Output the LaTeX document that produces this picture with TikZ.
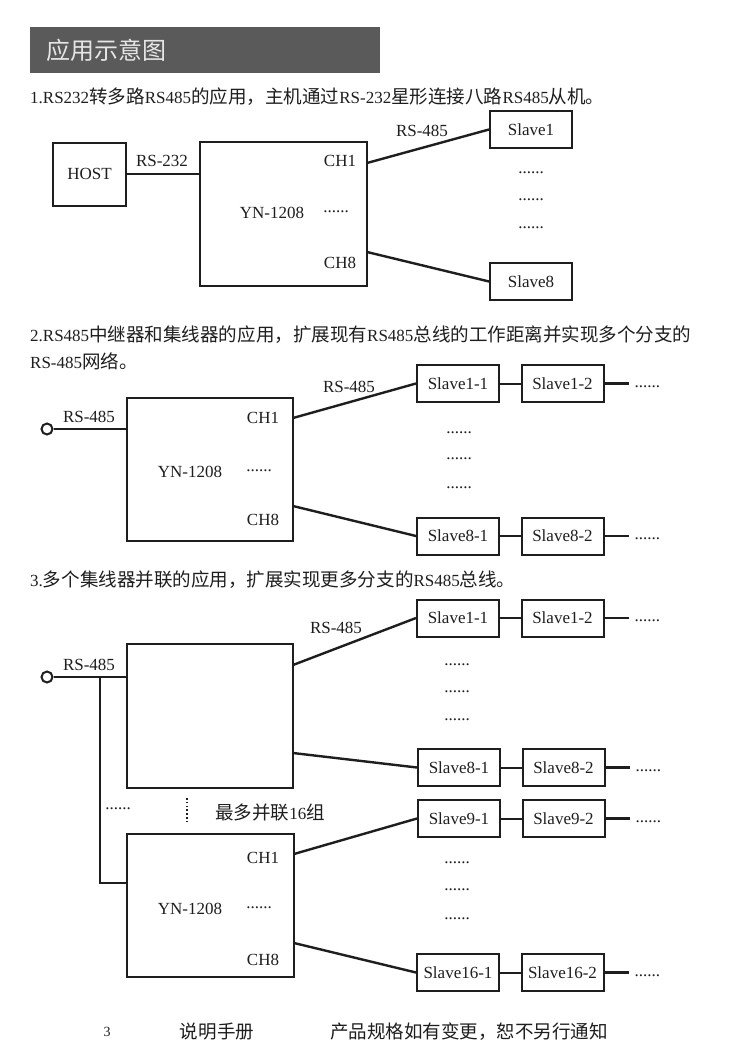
\documentclass[tikz,border=0pt]{standalone}
\usepackage{fontspec}
\setmainfont{Liberation Serif}
\newfontfamily\cjk{Noto Sans CJK SC}[Scale=1.09]
\newcommand\zh[1]{{\cjk #1}}
\definecolor{ink}{HTML}{1E1E1E}
\definecolor{bar}{HTML}{5A5A5A}
\definecolor{titleink}{HTML}{E6E6E6}
\begin{document}
\begin{tikzpicture}[x=1pt,y=-1pt,
  every node/.style={font=\fontsize{17}{20}\selectfont, text=ink, inner sep=0pt},
  slavebox/.style={draw=ink, line width=2pt, minimum width=82pt, minimum height=37pt, inner sep=0pt},
  hubbox/.style={draw=ink, line width=2pt, minimum width=166pt, minimum height=143pt, inner sep=0pt},
  wire/.style={draw=ink, line width=2.4pt},
  link/.style={draw=ink, line width=2pt},
  tail/.style={draw=ink, line width=2.8pt},
  ring/.style={circle, draw=ink, line width=2pt, minimum size=11pt, inner sep=0pt},
  line/.style={anchor=west, font=\fontsize{17}{20}\selectfont}
]
\useasboundingbox (0,0) rectangle (750,1062);
\fill[white] (0,0) rectangle (750,1062);

% title
\node[fill=bar, minimum width=350pt, minimum height=46pt, anchor=north west] (title) at (30,27) {};
\node[anchor=west, font=\fontsize{22}{24}\selectfont\cjk, text=titleink] (titletext) at (46,50) {应用示意图};

% ---------- section 1
\node[line] (t1) at (30,97) {1.RS232\zh{转多路}RS485\zh{的应用，主机通过}RS-232\zh{星形连接八路}RS485\zh{从机。}};
\node[draw=ink, line width=2pt, minimum width=73pt, minimum height=63pt] (host) at (89.5,174) {HOST};
\node[hubbox, minimum width=167pt, minimum height=144pt] (hub1) at (283.5,214) {};
\node (h1c1) at (340,161) {CH1};
\node (h1n) at (272,213) {YN-1208};
\node (h1d) at (336,212) {......};
\node (h1c8) at (340,263) {CH8};
\node (rs232) at (162,161) {RS-232};
\node[slavebox] (s1) at (531,129.5) {Slave1};
\node[slavebox] (s8) at (531,281.5) {Slave8};
\node (r1) at (422,131) {RS-485};
\node (d1a) at (531,173) {......};
\node (d1b) at (531,200) {......};
\node (d1c) at (531,228) {......};
\coordinate (h1o1) at (367,163);
\coordinate (h1o8) at (367,252);
\draw[wire] (host.east) -- (host.east -| hub1.west);
\draw[wire] (h1o1) -- (s1.west);
\draw[wire] (h1o8) -- (s8.west);

% ---------- section 2
\node[line] (t2a) at (30,335) {2.RS485\zh{中继器和集线器的应用，扩展现有}RS485\zh{总线的工作距离并实现多个分支的}};
\node[line] (t2b) at (30,361) {RS-485\zh{网络。}};
\node[ring] (ring2) at (47,429) {};
\node (r2in) at (89,417) {RS-485};
\node[hubbox] (hub2) at (210,469.5) {};
\node (h2c1) at (263,418) {CH1};
\node (h2n) at (190,472) {YN-1208};
\node (h2d) at (259,471) {......};
\node (h2c8) at (263,520) {CH8};
\draw[wire] (ring2.east) -- (ring2.east -| hub2.west);
\node[slavebox] (a11) at (458,383.5) {Slave1-1};
\node[slavebox] (a12) at (562.5,383.5) {Slave1-2};
\node[slavebox] (a81) at (458,536) {Slave8-1};
\node[slavebox] (a82) at (562.5,536) {Slave8-2};
\node (r2out) at (349,387) {RS-485};
\node (d2a) at (459,433) {......};
\node (d2b) at (459,459) {......};
\node (d2c) at (459,488) {......};
\coordinate (h2o1) at (293,418);
\coordinate (h2o8) at (293,506);
\draw[wire] (h2o1) -- (a11.west);
\draw[wire] (h2o8) -- (a81.west);
\draw[link] (a11) -- (a12);
\draw[link] (a81) -- (a82);
\draw[tail] (a12.east) -- ++(24,0) coordinate (a12e);
\draw[tail] (a82.east) -- ++(24,0) coordinate (a82e);
\node[anchor=west] (a12d) at ([xshift=6pt,yshift=-3pt]a12e) {......};
\node[anchor=west] (a82d) at ([xshift=6pt,yshift=-3pt]a82e) {......};

% ---------- section 3
\node[line] (t3) at (30,580) {3.\zh{多个集线器并联的应用，扩展实现更多分支的}RS485\zh{总线。}};
\node[ring] (ring3) at (47,677) {};
\node (r3in) at (89,665) {RS-485};
\node[hubbox, minimum height=144pt] (hub3a) at (210,716) {};
\node[hubbox, minimum width=167pt] (hub3b) at (210.5,905.5) {};
\node (h3c1) at (263,858) {CH1};
\node (h3n) at (190,909) {YN-1208};
\node (h3d) at (259,908) {......};
\node (h3c8) at (263,960) {CH8};
\draw[wire] (ring3.east) -- (ring3.east -| hub3a.west);
\coordinate (bus) at (100,677);
\coordinate (busj) at (127,883);
\draw[link] (bus) |- (busj);

\node[slavebox] (b11) at (458,618) {Slave1-1};
\node[slavebox] (b12) at (562.5,618) {Slave1-2};
\node[slavebox] (b81) at (459,767.5) {Slave8-1};
\node[slavebox] (b82) at (563.5,767.5) {Slave8-2};
\node[slavebox] (b91) at (459,818.5) {Slave9-1};
\node[slavebox] (b92) at (563.5,818.5) {Slave9-2};
\node[slavebox] (b161) at (458,972.5) {Slave16-1};
\node[slavebox] (b162) at (562.5,972.5) {Slave16-2};
\node (r3out) at (336,628) {RS-485};
\node (d3a) at (457,665) {......};
\node (d3b) at (457,692) {......};
\node (d3c) at (457,720) {......};
\node (d3d) at (457,863) {......};
\node (d3e) at (457,890) {......};
\node (d3f) at (457,919) {......};
\coordinate (h3o1) at (293,665);
\coordinate (h3o8) at (293,753);
\coordinate (h3o9) at (294,854);
\coordinate (h3o16) at (294,943);
\draw[wire] (h3o1) -- (b11.west);
\draw[wire] (h3o8) -- (b81.west);
\draw[wire] (h3o9) -- (b91.west);
\draw[wire] (h3o16) -- (b161.west);
\draw[link] (b11) -- (b12);
\draw[link] (b81) -- (b82);
\draw[link] (b91) -- (b92);
\draw[link] (b161) -- (b162);
\draw[tail] (b12.east) -- ++(24,0) coordinate (b12e);
\draw[tail] (b82.east) -- ++(24,0) coordinate (b82e);
\draw[tail] (b92.east) -- ++(24,0) coordinate (b92e);
\draw[tail] (b162.east) -- ++(24,0) coordinate (b162e);
\node[anchor=west] (b12d) at ([xshift=6pt,yshift=-3pt]b12e) {......};
\node[anchor=west] (b82d) at ([xshift=6pt,yshift=-3pt]b82e) {......};
\node[anchor=west] (b92d) at ([xshift=6pt,yshift=-3pt]b92e) {......};
\node[anchor=west] (b162d) at ([xshift=6pt,yshift=-3pt]b162e) {......};

\node (pd) at (118,809) {......};
\coordinate (dv1) at (187,798);
\coordinate (dv2) at (187,823);
\draw[ink, line width=1.3pt, dash pattern=on 1.6pt off 2.2pt] (dv1) -- (dv2);
\node (maxn) at (270,812) {\zh{最多并联}16\zh{组}};

% footer
\node[font=\fontsize{14}{16}\selectfont] (pg) at (107,1032) {3};
\node (man) at (217,1032) {\zh{说明手册}};
\node (note) at (469,1032) {\zh{产品规格如有变更，恕不另行通知}};
\end{tikzpicture}
\end{document}
